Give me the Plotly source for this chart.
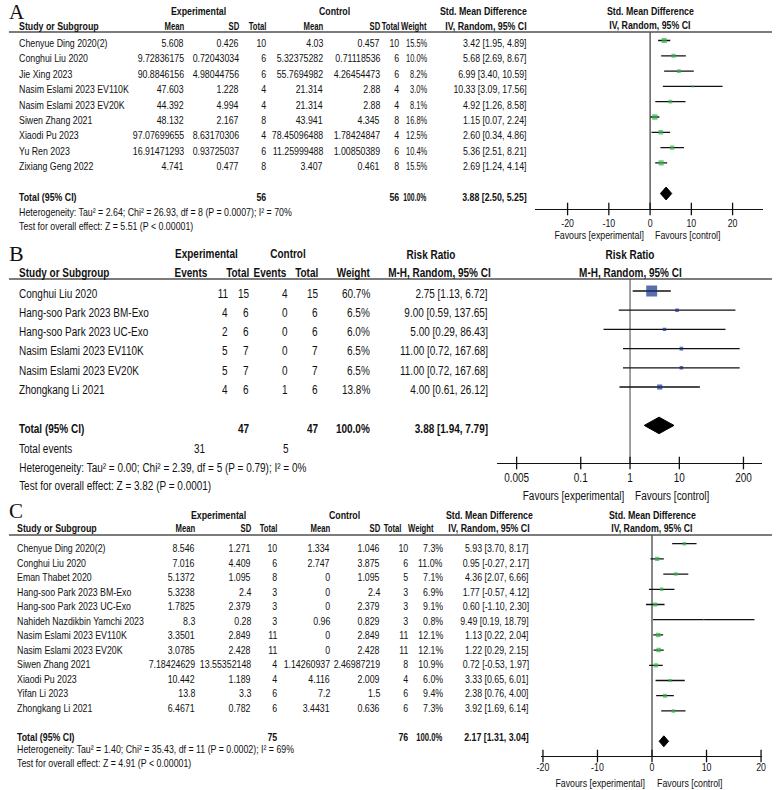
import math
import plotly.graph_objects as go

# ======================= DATA =======================
# ---- Panel A : continuous outcome, Std. Mean Difference (IV, Random) ----
studies_A = ["Chenyue Ding 2020(2)", "Conghui Liu 2020", "Jie Xing 2023",
             "Nasim Eslami 2023 EV110K", "Nasim Eslami 2023 EV20K", "Siwen Zhang 2021",
             "Xiaodi Pu 2023", "Yu Ren 2023", "Zixiang Geng 2022"]
exp_mean_A = [5.608, 9.72836175, 90.8846156, 47.603, 44.392, 48.132, 97.07699655, 16.91471293, 4.741]
exp_sd_A = [0.426, 0.72043034, 4.98044756, 1.228, 4.994, 2.167, 8.63170306, 0.93725037, 0.477]
exp_n_A = [10, 6, 6, 4, 4, 8, 4, 6, 8]
ctrl_mean_A = [4.03, 5.32375282, 55.7694982, 21.314, 21.314, 43.941, 78.45096488, 11.25999488, 3.407]
ctrl_sd_A = [0.457, 0.71118536, 4.26454473, 2.88, 2.88, 4.345, 1.78424847, 1.00850389, 0.461]
ctrl_n_A = [10, 6, 6, 4, 4, 8, 4, 6, 8]
weight_A = [15.5, 10.0, 8.2, 3.0, 8.1, 16.8, 12.5, 10.4, 15.5]
est_A = [3.42, 5.68, 6.99, 10.33, 4.92, 1.15, 2.60, 5.36, 2.69]
lo_A = [1.95, 2.69, 3.40, 3.09, 1.26, 0.07, 0.34, 2.51, 1.24]
hi_A = [4.89, 8.67, 10.59, 17.56, 8.58, 2.24, 4.86, 8.21, 4.14]
total_n_A = [56, 56]
total_A = [3.88, 2.50, 5.25]
het_A = "Heterogeneity: Tau² = 2.64; Chi² = 26.93, df = 8 (P = 0.0007); I² = 70%"
test_A = "Test for overall effect: Z = 5.51 (P &lt; 0.00001)"
ticks_A = [-20, -10, 0, 10, 20]
ticklabels_A = ["-20", "-10", "0", "10", "20"]

# ---- Panel B : dichotomous outcome, Risk Ratio (M-H, Random) ----
studies_B = ["Conghui Liu 2020", "Hang-soo Park 2023 BM-Exo", "Hang-soo Park 2023 UC-Exo",
             "Nasim Eslami 2023 EV110K", "Nasim Eslami 2023 EV20K", "Zhongkang Li 2021"]
ev_exp_B = [11, 4, 2, 5, 5, 4]
n_exp_B = [15, 6, 6, 7, 7, 6]
ev_ctrl_B = [4, 0, 0, 0, 0, 1]
n_ctrl_B = [15, 6, 6, 7, 7, 6]
weight_B = [60.7, 6.5, 6.0, 6.5, 6.5, 13.8]
est_B = [2.75, 9.00, 5.00, 11.00, 11.00, 4.00]
lo_B = [1.13, 0.59, 0.29, 0.72, 0.72, 0.61]
hi_B = [6.72, 137.65, 86.43, 167.68, 167.68, 26.12]
total_n_B = [47, 47]
total_events_B = [31, 5]
total_B = [3.88, 1.94, 7.79]
het_B = "Heterogeneity: Tau² = 0.00; Chi² = 2.39, df = 5 (P = 0.79); I² = 0%"
test_B = "Test for overall effect: Z = 3.82 (P = 0.0001)"
ticks_B = [0.005, 0.1, 1, 10, 200]
ticklabels_B = ["0.005", "0.1", "1", "10", "200"]

# ---- Panel C : continuous outcome, Std. Mean Difference (IV, Random) ----
studies_C = ["Chenyue Ding 2020(2)", "Conghui Liu 2020", "Eman Thabet 2020",
             "Hang-soo Park 2023 BM-Exo", "Hang-soo Park 2023 UC-Exo",
             "Nahideh Nazdikbin Yamchi 2023", "Nasim Eslami 2023 EV110K",
             "Nasim Eslami 2023 EV20K", "Siwen Zhang 2021", "Xiaodi Pu 2023",
             "Yifan Li 2023", "Zhongkang Li 2021"]
exp_mean_C = [8.546, 7.016, 5.1372, 5.3238, 1.7825, 8.3, 3.3501, 3.0785, 7.18424629, 10.442, 13.8, 6.4671]
exp_sd_C = [1.271, 4.409, 1.095, 2.4, 2.379, 0.28, 2.849, 2.428, 13.55352148, 1.189, 3.3, 0.782]
exp_n_C = [10, 6, 8, 3, 3, 3, 11, 11, 4, 4, 6, 6]
ctrl_mean_C = [1.334, 2.747, 0, 0, 0, 0.96, 0, 0, 1.14260937, 4.116, 7.2, 3.4431]
ctrl_sd_C = [1.046, 3.875, 1.095, 2.4, 2.379, 0.829, 2.849, 2.428, 2.46987219, 2.009, 1.5, 0.636]
ctrl_n_C = [10, 6, 5, 3, 3, 3, 11, 11, 8, 4, 6, 6]
weight_C = [7.3, 11.0, 7.1, 6.9, 9.1, 0.8, 12.1, 12.1, 10.9, 6.0, 9.4, 7.3]
est_C = [5.93, 0.95, 4.36, 1.77, 0.60, 9.49, 1.13, 1.22, 0.72, 3.33, 2.38, 3.92]
lo_C = [3.70, -0.27, 2.07, -0.57, -1.10, 0.19, 0.22, 0.29, -0.53, 0.65, 0.76, 1.69]
hi_C = [8.17, 2.17, 6.66, 4.12, 2.30, 18.79, 2.04, 2.15, 1.97, 6.01, 4.00, 6.14]
total_n_C = [75, 76]
total_C = [2.17, 1.31, 3.04]
het_C = "Heterogeneity: Tau² = 1.40; Chi² = 35.43, df = 11 (P = 0.0002); I² = 69%"
test_C = "Test for overall effect: Z = 4.91 (P &lt; 0.00001)"
ticks_C = [-20, -10, 0, 10, 20]
ticklabels_C = ["-20", "-10", "0", "10", "20"]

# ======================= LAYOUT HELPERS =======================
W, H = 777, 790
SANS = "Liberation Sans Narrow, Arial Narrow, Liberation Sans, Arial, sans-serif"
SERIF = "Liberation Serif, Times New Roman, serif"
INK = "#111111"
GREEN = "#2fb34a"
BLUE = "#15308a"
SQ = 0.80          # horizontal condensing of the (narrow) table lettering (set per panel)
SQH = 0.70         # column headings are a little tighter
TICK_SQ = {"x": 0.80, "x2": 0.74, "x3": 0.80}


def px(x):
    return x / W


def py(y):
    return 1 - y / H


fig = go.Figure()
ann = []
shp = []


def T(x, y, s, size, bold=False, anchor="left", family=SANS, sq=None):
    ann.append(dict(xref="paper", yref="paper", x=px(x), y=py(y),
                    text=f"<b>{s}</b>" if bold else str(s), showarrow=False,
                    xanchor=anchor, yanchor="middle", borderpad=0,
                    name=f"s{SQ if sq is None else sq}",
                    font=dict(family=family, size=size, color=INK)))


def TX(xa, xval, y, s, size, bold=False, anchor="center", xshift=0):
    ann.append(dict(xref=xa, yref="paper", x=xval, y=py(y), xshift=xshift,
                    text=f"<b>{s}</b>" if bold else str(s), showarrow=False,
                    xanchor=anchor, yanchor="middle", borderpad=0, name=f"s{SQ}",
                    font=dict(family=SANS, size=size, color=INK)))


def rule(y, x0=3, x1=W):
    shp.append(dict(type="line", xref="paper", yref="paper", x0=px(x0), x1=px(x1),
                    y0=py(y), y1=py(y), line=dict(color="#505050", width=1.6)))


def fmt(v):
    return str(v)


def ci(e, l, h):
    return f"{e:.2f} [{l:.2f}, {h:.2f}]"


def forest(k, xdom, xrng, xtype, top, bottom, m0, ms, est, lo, hi, wts, color, size_k,
           tot, dh, ticks, ticklabels, tfont, zero_val, zero_color, zero_w, standoff):
    sfx = "" if k == 1 else str(k)
    xa, ya = "x" + sfx, "y" + sfx

    def r(p):
        return (p - m0) / ms

    fig.update_layout({
        "xaxis" + sfx: dict(domain=[px(xdom[0]), px(xdom[1])], range=xrng, type=xtype,
                            anchor=ya, showline=True, linecolor=INK, linewidth=1.3,
                            showgrid=False, zeroline=False, ticks="", tickmode="array",
                            tickvals=ticks, ticktext=ticklabels, ticklabelstandoff=standoff,
                            tickfont=dict(family=SANS, size=tfont, color=INK), fixedrange=True),
        "yaxis" + sfx: dict(domain=[py(bottom), py(top)], range=[r(bottom), r(top)],
                            anchor=xa, visible=False, showgrid=False, zeroline=False,
                            fixedrange=True),
    })
    rows = list(range(len(est)))
    # line of no effect
    fig.add_trace(go.Scatter(x=[zero_val, zero_val], y=[r(top), r(bottom)], mode="lines",
                             line=dict(color=zero_color, width=zero_w), xaxis=xa, yaxis=ya,
                             cliponaxis=False, hoverinfo="skip"))
    # confidence intervals
    xs, ys = [], []
    for i in rows:
        xs += [lo[i], hi[i], None]
        ys += [i, i, None]
    fig.add_trace(go.Scatter(x=xs, y=ys, mode="lines", line=dict(color=INK, width=1.3),
                             xaxis=xa, yaxis=ya, hoverinfo="skip"))
    # study squares (area ~ weight)
    fig.add_trace(go.Scatter(x=est, y=rows, mode="markers", xaxis=xa, yaxis=ya,
                             marker=dict(symbol="square", color=color,
                                         size=[size_k * math.sqrt(w) for w in wts],
                                         line=dict(width=0)), hoverinfo="skip"))
    # pooled diamond
    d = len(est) + 1
    e, l, h = tot
    fig.add_trace(go.Scatter(x=[l, e, h, e, l], y=[d, d - dh, d, d + dh, d], mode="lines",
                             fill="toself", fillcolor="black", line=dict(color="black", width=1),
                             xaxis=xa, yaxis=ya, hoverinfo="skip"))
    # crossing tick marks on axis
    fig.add_trace(go.Scatter(x=ticks, y=[r(bottom)] * len(ticks), mode="markers",
                             marker=dict(symbol="line-ns", size=9, color=INK,
                                         line=dict(color=INK, width=1.3)),
                             xaxis=xa, yaxis=ya, cliponaxis=False, hoverinfo="skip"))
    return xa


# ======================= PANEL A =======================
SQ = 0.80
fsA = 11
xaA = forest(1, (537, 768), [-27.8, 27.4], "linear", 32, 209, 40.5, 15.3,
             est_A, lo_A, hi_A, weight_A, GREEN, 1.3, total_A, 0.42,
             ticks_A, ticklabels_A, fsA, 0, INK, 1, 4)
T(2, 12, "A", 21, family=SERIF, sq=1)
T(195, 11, "Experimental", fsA, True, "center")
T(333, 11, "Control", fsA, True, "center")
T(484, 11, "Std. Mean Difference", fsA, True, "center")
TX(xaA, 0, 11, "Std. Mean Difference", fsA, True)
TX(xaA, 0, 25.5, "IV, Random, 95% CI", fsA, True)
hy = 26.5
T(12, hy, "Study or Subgroup", fsA, True)
for x, s in [(182, "Mean"), (237, "SD"), (265, "Total"), (323, "Mean"), (380, "SD"),
             (400, "Total"), (428, "Weight")]:
    T(x, hy, s, fsA, True, "right", sq=SQH)
T(530, hy, "IV, Random, 95% CI", fsA, True, "right")
rule(32)
for i, name in enumerate(studies_A):
    y = 43 + 15.4 * i
    T(12, y, name, fsA)
    T(182, y, fmt(exp_mean_A[i]), fsA, anchor="right")
    T(237, y, fmt(exp_sd_A[i]), fsA, anchor="right")
    T(265, y, exp_n_A[i], fsA, anchor="right")
    T(323, y, fmt(ctrl_mean_A[i]), fsA, anchor="right")
    T(380, y, fmt(ctrl_sd_A[i]), fsA, anchor="right")
    T(400, y, ctrl_n_A[i], fsA, anchor="right")
    T(428, y, f"{weight_A[i]:.1f}%", fsA, anchor="right", sq=0.68)
    T(530, y, ci(est_A[i], lo_A[i], hi_A[i]), fsA, anchor="right")
y = 43 + 15.4 * 10
T(12, y, "Total (95% CI)", fsA, True)
T(265, y, total_n_A[0], fsA, True, "right")
T(400, y, total_n_A[1], fsA, True, "right")
T(428, y, "100.0%", fsA, True, "right", sq=0.62)
T(530, y, ci(*total_A), fsA, True, "right")
T(12, 212, het_A, fsA)
T(12, 226, test_A, fsA)
TX(xaA, 0, 235, "Favours [experimental]", fsA, anchor="right", xshift=-5)
TX(xaA, 0, 235, "Favours [control]", fsA, anchor="left", xshift=4)

# ======================= PANEL B =======================
SQ = 0.74
fsB = 13.5
xaB = forest(2, (498, 767), [-2.70, 2.68], "log", 279, 463, 291, 19.2,
             est_B, lo_B, hi_B, weight_B, BLUE, 1.4, total_B, 0.43,
             ticks_B, ticklabels_B, fsB, 1, "#808080", 1.5, 2)
T(2, 254, "B", 22, family=SERIF, sq=1)
T(203, 254, "Experimental", fsB, True, "center")
T(286, 254, "Control", fsB, True, "center")
T(431, 255, "Risk Ratio", fsB, True, "center")
TX(xaB, 0, 255, "Risk Ratio", fsB, True)
TX(xaB, 0, 272, "M-H, Random, 95% CI", fsB, True)
hy = 272
T(12, hy, "Study or Subgroup", fsB, True)
for x, s in [(205, "Events"), (247, "Total"), (285, "Events"), (318, "Total"),
             (370, "Weight"), (493, "M-H, Random, 95% CI")]:
    T(x, hy, s, fsB, True, "right")
rule(279)
for i, name in enumerate(studies_B):
    y = 293 + 19.3 * i
    T(12, y, name, fsB)
    T(226, y, ev_exp_B[i], fsB, anchor="right")
    T(247, y, n_exp_B[i], fsB, anchor="right")
    T(287, y, ev_ctrl_B[i], fsB, anchor="right")
    T(318, y, n_ctrl_B[i], fsB, anchor="right")
    T(370, y, f"{weight_B[i]:.1f}%", fsB, anchor="right")
    T(490, y, ci(est_B[i], lo_B[i], hi_B[i]), fsB, anchor="right")
y = 293 + 19.3 * 7
T(12, y, "Total (95% CI)", fsB, True)
T(247, y, total_n_B[0], fsB, True, "right")
T(318, y, total_n_B[1], fsB, True, "right")
T(370, y, "100.0%", fsB, True, "right")
T(490, y, ci(*total_B), fsB, True, "right")
T(12, 448, "Total events", fsB)
T(203, 448, total_events_B[0], fsB, anchor="right")
T(288, 448, total_events_B[1], fsB, anchor="right")
T(12, 467, het_B, fsB)
T(12, 485, test_B, fsB)
TX(xaB, 0, 495, "Favours [experimental]", fsB, anchor="right", xshift=-5)
TX(xaB, 0, 495, "Favours [control]", fsB, anchor="left", xshift=4)

# ======================= PANEL C =======================
SQ = 0.80
fsC = 11
xaC = forest(3, (543, 767), [-20.3, 20.2], "linear", 535, 756, 543.7, 15.2,
             est_C, lo_C, hi_C, weight_C, GREEN, 1.3, total_C, 0.36,
             ticks_C, ticklabels_C, fsC, 0, INK, 1, 1)
T(2, 511, "C", 21, family=SERIF, sq=1)
T(216, 515, "Experimental", fsC, True, "center")
T(343, 515, "Control", fsC, True, "center")
T(490, 515, "Std. Mean Difference", fsC, True, "center")
TX(xaC, 0, 515, "Std. Mean Difference", fsC, True)
TX(xaC, 0, 528, "IV, Random, 95% CI", fsC, True)
hy = 528
T(10, hy, "Study or Subgroup", fsC, True)
for x, s in [(193, "Mean"), (250, "SD"), (276, "Total"), (330, "Mean"), (380, "SD"),
             (402, "Total"), (435, "Weight")]:
    T(x, hy, s, fsC, True, "right", sq=SQH)
T(533, hy, "IV, Random, 95% CI", fsC, True, "right")
rule(535)
for i, name in enumerate(studies_C):
    y = 548 + 14.5 * i
    T(10, y, name, fsC)
    T(193, y, fmt(exp_mean_C[i]), fsC, anchor="right")
    T(250, y, fmt(exp_sd_C[i]), fsC, anchor="right")
    T(276, y, exp_n_C[i], fsC, anchor="right")
    T(330, y, fmt(ctrl_mean_C[i]), fsC, anchor="right")
    T(380, y, fmt(ctrl_sd_C[i]), fsC, anchor="right")
    T(409, y, ctrl_n_C[i], fsC, anchor="right")
    T(444, y, f"{weight_C[i]:.1f}%", fsC, anchor="right")
    T(532, y, ci(est_C[i], lo_C[i], hi_C[i]), fsC, anchor="right")
y = 548 + 14.5 * 13
T(10, y, "Total (95% CI)", fsC, True)
T(276, y, total_n_C[0], fsC, True, "right")
T(409, y, total_n_C[1], fsC, True, "right")
T(444, y, "100.0%", fsC, True, "right", sq=SQH)
T(532, y, ci(*total_C), fsC, True, "right")
T(10, 749, het_C, fsC)
T(10, 763, test_C, fsC)
TX(xaC, 0, 783, "Favours [experimental]", fsC, anchor="right", xshift=-6)
TX(xaC, 0, 783, "Favours [control]", fsC, anchor="left", xshift=4)

fig.update_layout(width=W, height=H, margin=dict(l=0, r=0, t=0, b=0),
                  paper_bgcolor="white", plot_bgcolor="white", showlegend=False,
                  hovermode=False, annotations=ann, shapes=shp)

# page set-up: no body margin, and condense the lettering horizontally (Arial-Narrow look)
POST = """
(function(){
  document.documentElement.style.margin = '0';
  document.body.style.margin = '0';
  document.body.style.padding = '0';
  document.body.style.overflow = 'hidden';
  var gd = document.getElementById('{plot_id}');
  var TSQ = TICKMAP;
  function sq(el, s, mode){
    if(el.getAttribute('data-ot') === null){ el.setAttribute('data-ot', el.getAttribute('transform') || ''); }
    var ot = el.getAttribute('data-ot');
    if(ot) { el.setAttribute('transform', ot); } else { el.removeAttribute('transform'); }
    var b = el.getBBox();
    var ax = mode === 'left' ? b.x : (mode === 'right' ? b.x + b.width : b.x + b.width / 2);
    el.setAttribute('transform', ot + ' translate(' + ax + ',0) scale(' + s + ',1) translate(' + (-ax) + ',0)');
  }
  function run(){
    var anns = (gd.layout && gd.layout.annotations) || [];
    gd.querySelectorAll('g.annotation').forEach(function(g){
      var i = +g.getAttribute('data-index');
      var a = anns[i]; if(!a) return;
      var s = parseFloat(String(a.name || '').replace('s', ''));
      if(!(s > 0) || s === 1) return;
      var t = g.querySelector('text.annotation-text'); if(!t) return;
      sq(t, s, a.xanchor || 'center');
    });
    Object.keys(TSQ).forEach(function(k){
      gd.querySelectorAll('g.' + k + 'tick text').forEach(function(t){ sq(t, TSQ[k], 'center'); });
    });
  }
  run();
  if(gd.on) { gd.on('plotly_afterplot', run); }
})();
""".replace("TICKMAP", str(TICK_SQ).replace("'", '"'))

fig.write_html("out.html", post_script=POST, config={"displayModeBar": False, "staticPlot": True})
